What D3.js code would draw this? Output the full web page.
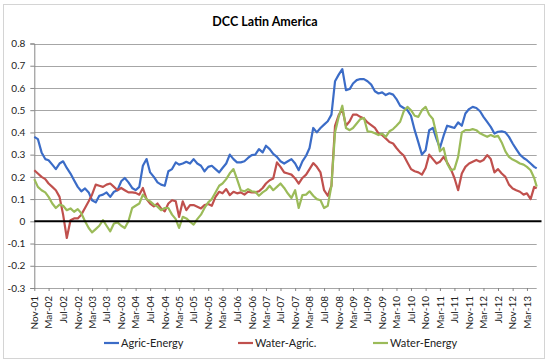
<!DOCTYPE html>
<html><head><meta charset="utf-8">
<script src="https://cdnjs.cloudflare.com/ajax/libs/d3/7.8.5/d3.min.js"></script>
<style>body{margin:0;background:#fff}svg{display:block}text{font-family:Lato,"Open Sans",sans-serif}</style>
</head><body>
<svg id="c" width="550" height="363"></svg>
<script>
const title = "DCC Latin America";
const seriesNames = ["Agric-Energy", "Water-Agric.", "Water-Energy"];
const seriesColors = ["#3b6cc7", "#c0504d", "#9bbb59"];
const yTicks = [-0.3,-0.2,-0.1,0,0.1,0.2,0.3,0.4,0.5,0.6,0.7,0.8];
const startDate = new Date(2001,10,1);
const lastMonth = new Date(2013,4,1);
const endDate = new Date(2013,4,22);
// monthly observations Nov-01 .. May-13, plus final observation
const agricEnergy = [
0.38,0.37,0.31,0.28,0.275,0.255,0.235,0.26,0.27,0.24,
0.215,0.185,0.155,0.135,0.148,0.13,0.095,0.085,0.115,0.12,
0.13,0.11,0.133,0.14,0.18,0.195,0.175,0.15,0.14,0.155,
0.25,0.28,0.22,0.2,0.175,0.165,0.16,0.225,0.235,0.265,
0.255,0.26,0.268,0.26,0.28,0.26,0.25,0.225,0.245,0.25,
0.235,0.22,0.24,0.26,0.3,0.28,0.265,0.265,0.27,0.285,
0.298,0.3,0.325,0.31,0.34,0.325,0.303,0.29,0.27,0.26,
0.27,0.28,0.26,0.23,0.27,0.295,0.33,0.42,0.4,0.42,
0.435,0.45,0.48,0.63,0.66,0.685,0.59,0.595,0.62,0.635,
0.64,0.64,0.63,0.615,0.585,0.575,0.58,0.568,0.576,0.57,
0.55,0.52,0.51,0.5,0.475,0.41,0.355,0.3,0.32,0.41,
0.42,0.37,0.33,0.385,0.43,0.425,0.42,0.445,0.43,0.485,
0.505,0.515,0.51,0.495,0.47,0.447,0.425,0.395,0.403,0.405,
0.4,0.38,0.35,0.325,0.3,0.285,0.275,0.26,0.245,
0.238];
const waterAgric = [
0.23,0.215,0.2,0.19,0.17,0.155,0.14,0.11,0.03,-0.075,
0.005,0.013,0.013,0.03,0.06,0.09,0.12,0.165,0.16,0.155,
0.165,0.17,0.155,0.14,0.15,0.14,0.13,0.13,0.128,0.12,
0.15,0.1,0.08,0.067,0.08,0.058,0.045,0.08,0.095,0.09,
0.02,0.09,0.05,0.073,0.073,0.066,0.058,0.073,0.078,0.07,
0.11,0.133,0.126,0.145,0.118,0.133,0.126,0.13,0.12,0.133,
0.13,0.13,0.135,0.15,0.17,0.185,0.193,0.265,0.245,0.22,
0.215,0.21,0.193,0.17,0.195,0.21,0.235,0.262,0.245,0.22,
0.14,0.115,0.16,0.43,0.478,0.505,0.43,0.45,0.48,0.48,
0.47,0.463,0.445,0.433,0.42,0.396,0.388,0.373,0.357,0.35,
0.33,0.31,0.296,0.265,0.235,0.225,0.22,0.21,0.24,0.3,
0.28,0.26,0.268,0.29,0.265,0.235,0.195,0.14,0.215,0.245,
0.26,0.268,0.276,0.268,0.276,0.298,0.28,0.22,0.235,0.215,
0.2,0.165,0.148,0.14,0.133,0.12,0.126,0.1,0.155,
0.148];
const waterEnergy = [
0.19,0.155,0.14,0.13,0.11,0.08,0.06,0.075,0.07,0.05,
0.058,0.043,0.055,0.036,0.0,-0.03,-0.05,-0.035,-0.02,0.005,
-0.02,-0.045,-0.01,-0.005,-0.02,-0.03,0.0,0.06,0.07,0.08,
0.12,0.1,0.09,0.075,0.066,0.05,0.06,0.06,0.03,0.01,
-0.03,0.02,0.013,-0.002,-0.015,0.01,0.03,0.06,0.085,0.1,
0.13,0.16,0.17,0.19,0.216,0.235,0.19,0.14,0.135,0.145,
0.135,0.133,0.115,0.13,0.14,0.16,0.14,0.155,0.17,0.15,
0.125,0.105,0.14,0.06,0.118,0.12,0.135,0.115,0.1,0.095,
0.06,0.07,0.16,0.4,0.47,0.52,0.42,0.41,0.42,0.44,
0.46,0.465,0.405,0.403,0.396,0.388,0.395,0.38,0.405,0.415,
0.43,0.448,0.495,0.515,0.5,0.475,0.47,0.5,0.515,0.48,
0.46,0.39,0.315,0.33,0.26,0.23,0.235,0.29,0.4,0.41,
0.41,0.415,0.41,0.396,0.388,0.38,0.388,0.38,0.385,0.355,
0.315,0.29,0.278,0.27,0.26,0.255,0.245,0.23,0.195,
0.156];

const dates = d3.timeMonth.range(startDate, d3.timeDay.offset(lastMonth,1)).concat([endDate]);
const xTickDates = d3.timeMonth.range(startDate, endDate, 4);
const seriesValues = [agricEnergy, waterAgric, waterEnergy];

const svg = d3.select("#c");
const L = 34.3, R = 536.7, T = 43.5, B = 288;
const x = d3.scaleTime().domain([startDate, endDate]).range([L, R]);
const y = d3.scaleLinear().domain([-0.3, 0.8]).range([B, T]);

svg.append("rect").attr("x",3.5).attr("y",4.5).attr("width",541).attr("height",354)
  .attr("fill","#fff").attr("stroke","#d4d4d4").attr("stroke-width",1);

svg.append("text").attr("x",265).attr("y",26).attr("text-anchor","middle")
  .attr("font-size",12.5).attr("font-weight","bold").attr("fill","#000").text(title);

// gridlines
svg.append("g").selectAll("line").data(yTicks.filter(d=>d!==0)).join("line")
  .attr("x1",L).attr("x2",R).attr("y1",d=>Math.round(y(d))+0.5).attr("y2",d=>Math.round(y(d))+0.5)
  .attr("stroke","#a6a6a6").attr("stroke-width",1);

// y axis
const yAxis = svg.append("g").attr("transform",`translate(${L},0)`)
  .call(d3.axisLeft(y).tickValues(yTicks).tickSize(4).tickPadding(5)
    .tickFormat(d=>String(Math.round(d*10)/10)));
yAxis.select(".domain").attr("stroke","#868686");
yAxis.selectAll(".tick line").attr("stroke","#868686");
yAxis.selectAll("text").attr("font-size",10).attr("fill","#222").attr("font-family","Lato,sans-serif");

// x axis (labels low)
const xAxis = svg.append("g").attr("transform",`translate(0,${B})`)
  .call(d3.axisBottom(x).tickValues(xTickDates).tickSize(3).tickFormat(d3.timeFormat("%b-%y")));
xAxis.select(".domain").remove();
xAxis.selectAll(".tick line").attr("stroke","#868686");
xAxis.selectAll("text").attr("font-size",10).attr("fill","#222").attr("font-family","Lato,sans-serif")
  .attr("transform","rotate(-90)").attr("text-anchor","end").attr("x",-8).attr("y",0).attr("dy","0.33em");

// lines
const line = d3.line().x((d,i)=>x(dates[i])).y(d=>y(d));
seriesValues.forEach((vals,k)=>{
  svg.append("path").datum(vals).attr("d",line).attr("fill","none")
    .attr("stroke",seriesColors[k]).attr("stroke-width",2.2).attr("stroke-linejoin","round");
});

// zero line
svg.append("line").attr("x1",L).attr("x2",541.5).attr("y1",y(0)).attr("y2",y(0))
  .attr("stroke","#000").attr("stroke-width",2);

// legend
const legX = [104, 238, 373];
const lg = svg.append("g");
seriesNames.forEach((n,k)=>{
  lg.append("line").attr("x1",legX[k]).attr("x2",legX[k]+15).attr("y1",343).attr("y2",343)
    .attr("stroke",seriesColors[k]).attr("stroke-width",2.2);
  lg.append("text").attr("x",legX[k]+17).attr("y",343).attr("dy","0.35em")
    .attr("font-size",11).attr("fill","#222").text(n);
});
</script>
</body></html>
